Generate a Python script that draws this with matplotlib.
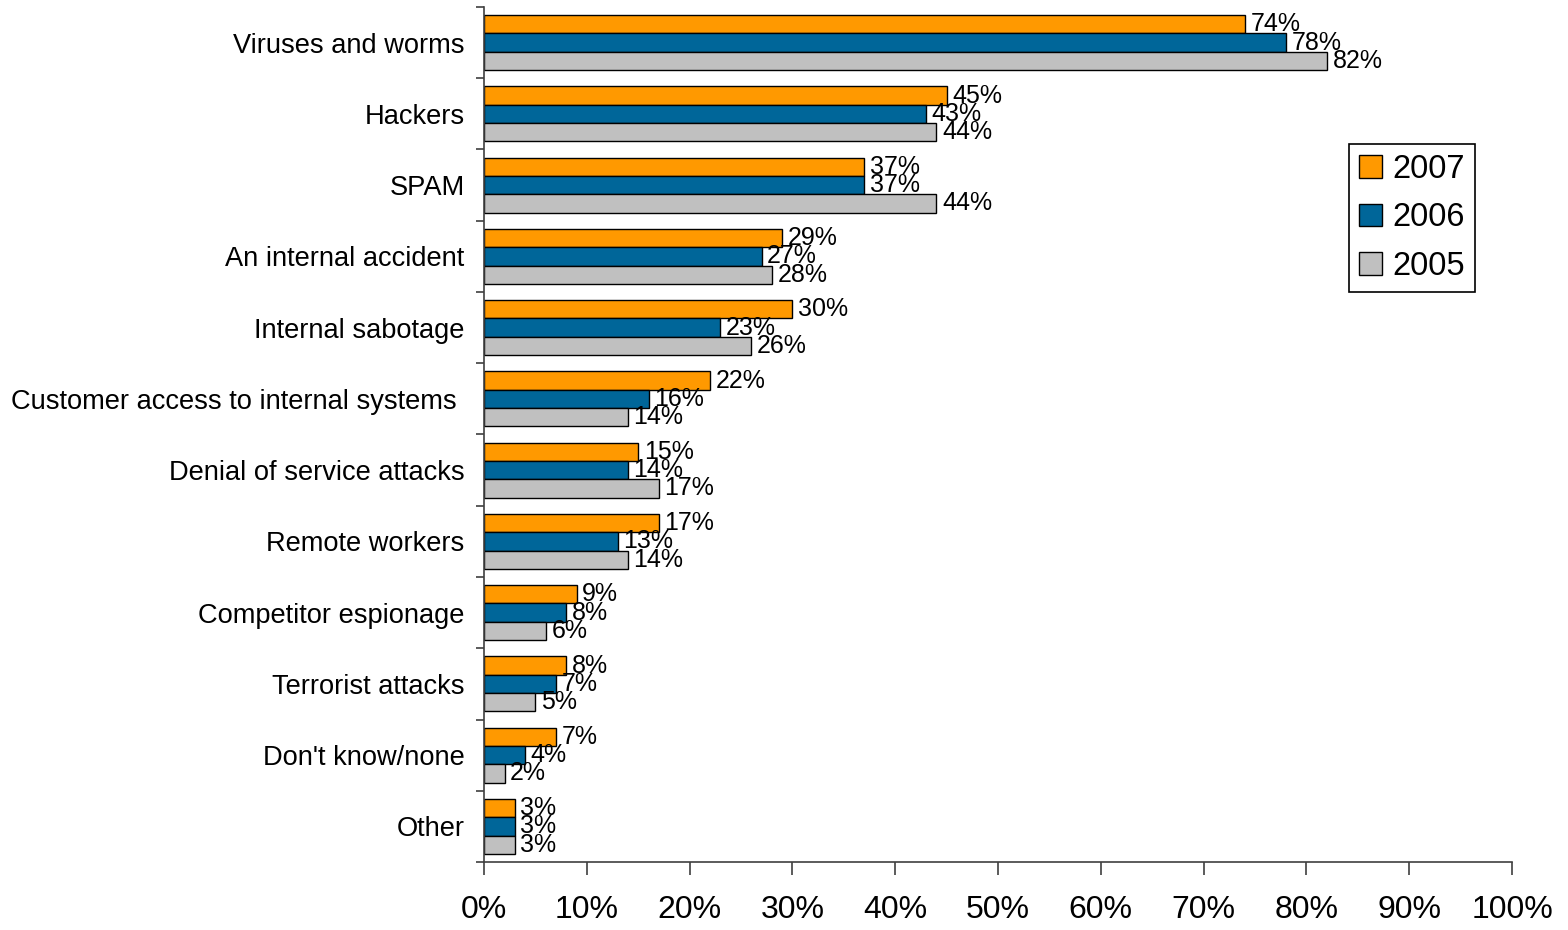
import numpy as np
import matplotlib
matplotlib.use("Agg")
import matplotlib.pyplot as plt

categories = [
    "Viruses and worms",
    "Hackers",
    "SPAM",
    "An internal accident",
    "Internal sabotage",
    "Customer access to internal systems ",
    "Denial of service attacks",
    "Remote workers",
    "Competitor espionage",
    "Terrorist attacks",
    "Don't know/none",
    "Other",
]
years = ["2007", "2006", "2005"]
vals_2007 = [74, 45, 37, 29, 30, 22, 15, 17, 9, 8, 7, 3]
vals_2006 = [78, 43, 37, 27, 23, 16, 14, 13, 8, 7, 4, 3]
vals_2005 = [82, 44, 44, 28, 26, 14, 17, 14, 6, 5, 2, 3]
colors = ["#FF9900", "#006699", "#C0C0C0"]

plt.rcParams["font.family"] = ["Liberation Sans", "DejaVu Sans"]

fig = plt.figure(figsize=(15.68, 9.3), dpi=100)
ax = fig.add_axes([0.3087, 0.0731, 0.9643 - 0.3087, 0.9925 - 0.0731])

y = np.arange(len(categories))
h = 0.257
series = [vals_2007, vals_2006, vals_2005]
for i, (vals, col, yr) in enumerate(zip(series, colors, years)):
    pos = y + (i - 1) * h
    bars = ax.barh(pos, vals, height=h, color=col, edgecolor="black",
                   linewidth=1.0, label=yr)
    for b, v in zip(bars, vals):
        ax.annotate(f"{v}%", (b.get_width(), b.get_y() + b.get_height() / 2),
                    xytext=(4, 0), textcoords="offset points",
                    va="center", ha="left", fontsize=18)

ax.set_ylim(len(categories) - 0.5, -0.5)
ax.set_xlim(0, 100)

ax.set_yticks(y)
ax.set_yticklabels(categories, fontsize=19.6)
ax.set_yticks(np.arange(-0.5, len(categories)), minor=True)
ax.tick_params(axis="y", which="major", length=0, pad=14)
ax.tick_params(axis="y", which="minor", length=6, width=1.2, color="#404040")

ax.set_xticks(np.arange(0, 101, 10))
ax.set_xticklabels([f"{t}%" for t in range(0, 101, 10)], fontsize=23)
ax.tick_params(axis="x", length=9, width=1.2, color="#404040", pad=15)

for s in ["top", "right"]:
    ax.spines[s].set_visible(False)
for s in ["left", "bottom"]:
    ax.spines[s].set_color("#404040")
    ax.spines[s].set_linewidth(1.2)

leg = ax.legend(loc="upper left", bbox_to_anchor=(0.8603, 0.8452),
                bbox_transform=fig.transFigure, borderaxespad=0,
                fontsize=23.5, fancybox=False, edgecolor="black",
                framealpha=1, handlelength=0.7, handleheight=0.7,
                handletextpad=0.34, labelspacing=0.54, borderpad=0.3)
leg.get_frame().set_linewidth(1.2)

fig.savefig("out.png", dpi=100)
